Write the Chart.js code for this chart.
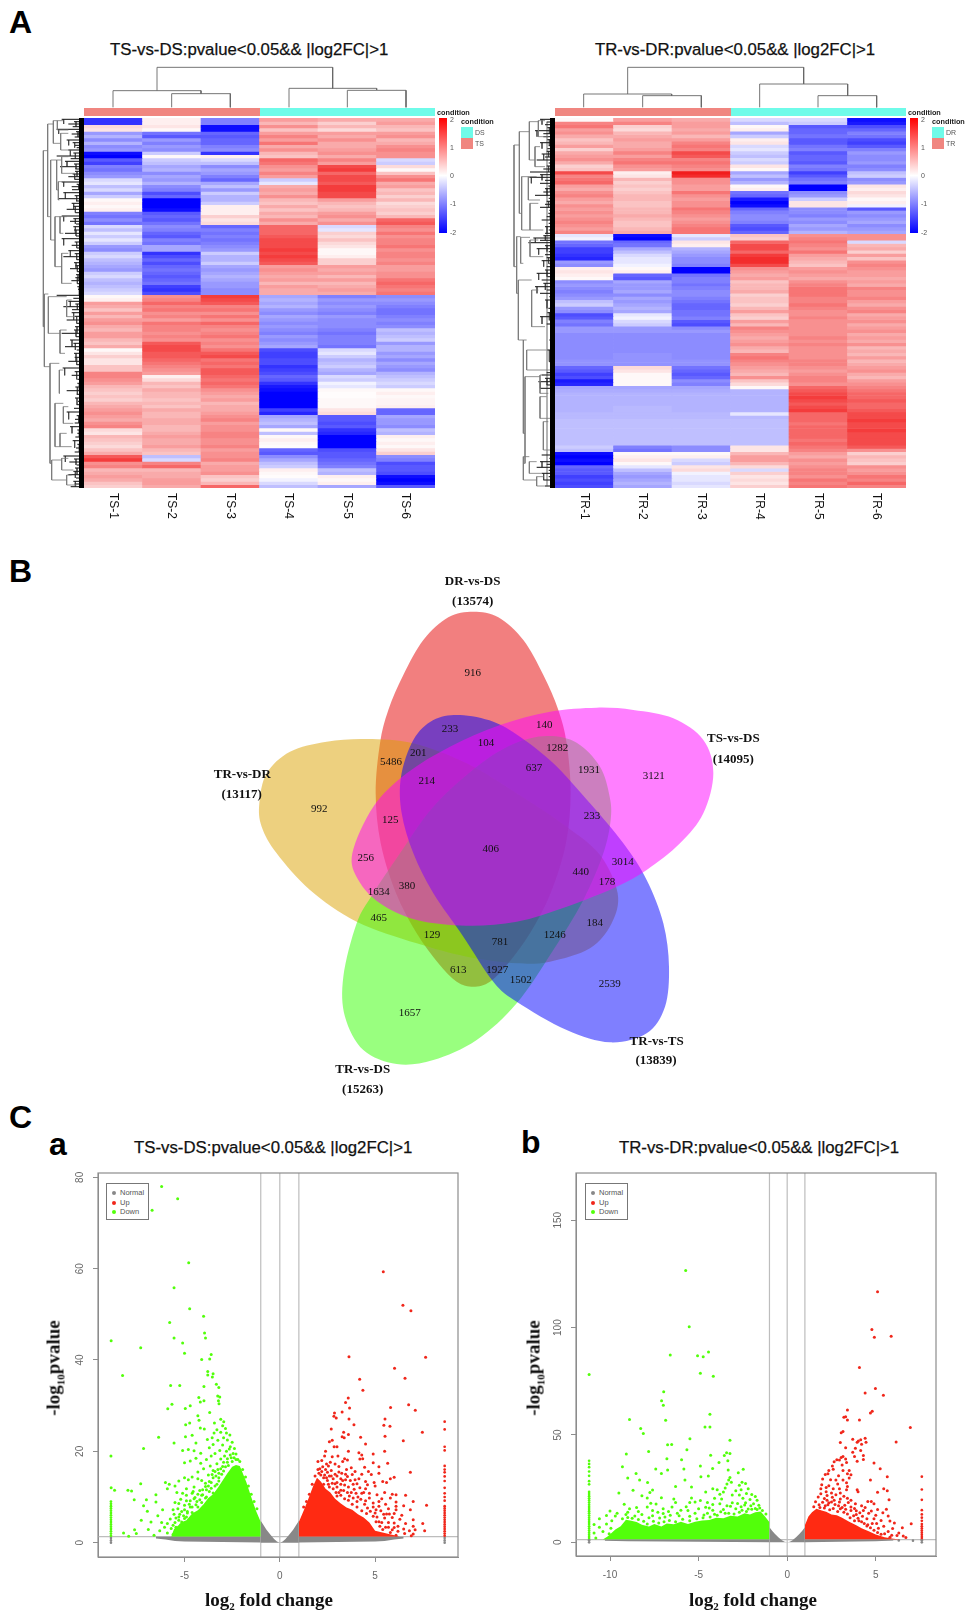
<!DOCTYPE html>
<html>
<head>
<meta charset="utf-8">
<script src="https://cdn.jsdelivr.net/npm/chart.js@4/dist/chart.umd.js"></script>
<style>
  html, body { margin: 0; padding: 0; background: #fff; }
  #page { position: relative; width: 975px; height: 1621px; overflow: hidden; font-family: "Liberation Sans", Arial, sans-serif; }
  canvas { position: absolute; }
  .txt { position: absolute; white-space: nowrap; line-height: 1; color: #000; }
  .box { position: absolute; }
  .panel { font-weight: bold; font-size: 32px; }
  .title { font-size: 16.8px; color: #111; transform: translateY(-50%); -webkit-text-stroke: 0.25px #111; }
  .axt { font-family: "Liberation Serif", serif; font-weight: bold; font-size: 19px; color: #111; }
  .axt sub { font-size: 11px; line-height: 0; }
</style>
</head>
<body>
<div id="page"></div>
<script>
// ---------- heatmap values (rows top to bottom, one value per sample) ----------
const samplesA = ['TS-1', 'TS-2', 'TS-3', 'TS-4', 'TS-5', 'TS-6'];
const samplesB = ['TR-1', 'TR-2', 'TR-3', 'TR-4', 'TR-5', 'TR-6'];
const heatA = [
  [-1.6,.2,-1,.9,.8,.8],[-1.6,.2,-1,.7,.5,.9],[.4,.3,-1.9,1,.7,.7],[.3,.1,-1.9,.6,.4,.6],[-.8,-1.1,-1.2,.9,.9,.9],[-.6,-1.3,-1.3,1.1,.8,1],
  [-.9,-.8,-1.2,.9,1,.7],[-.6,-1,-1.2,1.2,.8,.8],[-.9,-.8,-1,.8,.8,1],[-.8,-.9,-.9,1,.9,1.1],[-1.9,-.4,-1.6,.7,1,1],[-2,.1,.2,.6,.8,1],
  [-1.3,-.4,-.3,1.3,1.1,-.3],[-1.5,-.5,-.5,1.2,.9,-.4],[-1,-.7,-.9,1,1.5,.4],[-1.1,-.6,-.7,.9,1.6,.1],[-.9,-.9,-.8,1.1,1.3,.6],[-.8,-.7,-1,.9,1.5,1],
  [-.3,-.8,-1.2,-.4,1.5,1.2],[-.2,-.6,-.7,-.2,1.4,.8],[-.5,-.9,-.5,.8,1.6,.9],[-.3,-1,-.8,.9,1.6,.6],[-.7,-1.4,-.4,.8,1.5,.7],[-.4,-1.2,-.6,1,1.5,.5],
  [.1,-2,-.6,.7,.9,.7],[.2,-2,-.4,.6,.7,.4],[.1,-2,.2,.8,.6,.5],[.2,-1.9,.2,.6,.7,.6],[-1,-1.3,.2,.8,.9,.5],[-1.1,-1.2,.5,.7,1,.7],
  [-.9,-1.3,.3,1,.8,1.3],[-1.1,-1.1,.4,.8,1,1.4],[-.3,-.9,-1.2,1.3,-.3,1.1],[-.5,-1,-1,1.3,-.2,1],[-.2,-1.2,-1.1,1.3,.5,1.2],[-.4,-1.3,-1,1.4,.4,1],
  [-.2,-1,-1.1,1.5,.6,1.1],[-.4,-1.1,-1,1.5,.4,1.1],[-.8,-.7,-.9,1.5,.3,1.2],[-.9,-.7,-.8,1.6,.1,1],[-.4,-1.6,-.4,1.5,.1,1.1],[-.3,-1.4,-.6,1.6,.2,1.1],
  [-.5,-1.2,-.6,1.5,.5,1],[-.6,-1.4,-.4,1.4,.5,1.1],[-.7,-1.2,-.7,.9,.9,.9],[-.8,-1.1,-.8,1,.8,.9],[-.4,-1.2,-.7,.9,.9,1],[-.3,-1.3,-.6,.8,.7,1],
  [-.5,-1.2,-.7,.9,.9,1.2],[-.6,-1.1,-.8,.7,.7,1.3],[-.5,-1.5,-.8,.9,.8,1.2],[-.4,-1.6,-.9,.8,.9,1.1],[-.3,-1.4,-.9,.8,.8,1.2],
  [.1,1,1.6,-.7,-1,-.9],[.2,1.1,1.5,-.6,-.8,-.8],[.9,1.3,1.4,-.7,-.9,-.9],[.8,1.1,1.1,-.6,-.8,-1],[.6,1.2,1.2,-.8,-.9,-1.1],[.9,1,1,-.9,-1,-1.1],
  [.7,1.1,1.2,-.7,-.8,-1],[.9,.9,1,-.8,-.9,-.9],[1,1.2,1.3,-.9,-.9,-1],[.8,1.1,1.1,-.8,-.9,-.9],[.7,1.1,1,-.9,-1,-.5],[.9,1,1.1,-1,-1.1,-.6],
  [.9,1.1,1.2,-.8,-1,-.5],[.7,1,1,-.9,-1,-.4],[.6,1.4,1.1,-.8,-1,-.8],[.8,1.5,1,-.7,-1.1,-.6],[.1,1.5,1.2,-1.4,-.3,-.6],[.3,1.4,1.4,-1.5,-.2,-.8],
  [.5,1.4,1.5,-1.5,-.4,-.7],[.3,1.3,1.2,-1.4,-.6,-.9],[.3,1.2,1.3,-1.4,-.5,-.7],[.6,1.1,1.2,-1.6,-.4,-.8],[.6,1,1.4,-1.5,-.6,-.9],[1.1,.9,1.4,-1.4,-.7,-.6],
  [1.1,.2,1.3,-1.2,-.3,-.5],[1,.4,1.2,-1.3,-.4,-.4],[.9,.7,1.3,-1.6,-.1,-.3],[.7,.6,1.2,-1.8,-.2,-.4],[.6,.8,1,-1.9,.1,.1],[.5,.7,.9,-2,.05,.2],
  [.6,.7,.8,-2,.05,.1],[.5,.6,.9,-2,.1,.15],[.7,.7,.7,-2,.1,.15],[.8,.6,.8,-2,.1,.2],[.9,.8,.8,-1.5,.3,-1.2],[1,.7,.9,-1.7,.4,-1.2],
  [.9,.7,1,-.7,-1.3,-.7],[.8,.8,1.1,-.6,-1.3,-.8],[1,.8,.9,-.5,-1.4,-.8],[1.1,.7,1,-.7,-1.3,-.9],[.4,.7,1,.1,-1.6,-.5],[.3,.8,1.1,-.5,-1.7,-.6],
  [.7,.9,1.1,.1,-2,.2],[.6,.8,1,.2,-2,.1],[.5,.8,1,.1,-2,.2],[.4,.9,1.1,.05,-2,.1],[.6,.7,.9,-1.2,-1.4,.3],[.8,.6,1,-1.3,-1.3,.5],
  [1.4,-.5,1,-.9,-1.3,-.9],[1.6,-.3,1.1,-.7,-1.2,-1],[1,1.1,.8,-.5,-1.1,-1.4],[1.1,1.3,.9,-.4,-1,-1.3],[.7,.7,.9,.2,-.5,-1.3],[.8,.8,1,.1,-.6,-1.4],
  [.9,.8,.6,.05,.2,-1.9],[.8,.9,.5,-.1,.1,-2],[.6,.9,.7,-.3,.2,-1.9],[.5,.8,1.3,-.5,-.7,-1.3]
];
const heatB = [
  [.1,.9,.8,-.3,-.3,-1.9],[1.1,1.1,.9,-.5,-.4,-1.8],[1.2,.5,.9,.1,-1.3,-1.4],[.9,.4,.8,.2,-1.2,-1.2],[1,.7,.9,-.7,-1.2,-1],[.8,.8,.7,-.4,-1.1,-1.1],
  [.6,.9,.9,.2,-1.3,-1.4],[.7,.8,1.1,.3,-1.3,-1.5],[.9,.8,1.2,-.3,-1.1,-1.3],[.5,.9,1.1,-.2,-1,-1],[.8,1.1,1.5,-.4,-1.3,-.8],[.9,.9,1.4,-.5,-1.2,-.9],
  [1,1.1,1.1,-.3,-1.2,-.9],[.8,1.2,1.2,-.4,-1.3,-.8],[.5,1,1.1,.3,-1,-1],[.6,.9,1,.1,-1.1,-.9],[1.5,.2,1.8,-.7,-1.5,-.5],[1.1,.3,1.7,-.5,-1.3,-.4],
  [1.2,.7,1,-.8,-1.1,-.9],[1.3,.5,1,-.6,-1,-.8],[.9,.6,.9,.1,-2,.3],[.8,.5,.9,.2,-2,.2],[1,.6,1.2,-1.1,-.9,.4],[1.1,.7,1,-1.2,-.8,.3],
  [.9,.7,.9,-1.8,-.4,.1],[.8,.6,1,-2,.3,.2],[1,.6,1,-1.9,.3,-.1],[.9,.7,1.2,-1.2,-.9,-1.3],[1,.7,1.1,-1,-.9,-.8],[.9,.8,1,-.9,-1,-.9],
  [1,.7,.9,-.9,-.8,-.8],[1.1,.6,1,-1,-.9,-.7],[1,.6,1.1,-1.3,-.7,-.9],[.9,.7,1.2,-1.4,-.8,-.8],[1.1,.8,1.2,-1.2,-.6,-.7],
  [-.2,-1.9,-.2,.6,1,1],[-.1,-2,-.4,.5,1.1,1],[-1.1,-1.2,.3,1.3,1.2,-.3],[-1.2,-1.1,.2,1.5,1.1,.7],[-1.5,-.7,-.6,1.5,1,.8],[-1.5,-.5,-.7,1.3,1.2,.5],
  [-1.6,-.3,-.8,1.6,.9,.9],[-1.7,-.2,-.9,1.7,.8,.6],[-.8,-.2,-.9,1.7,.7,1],[-.9,-.1,-1,1.5,.6,1.1],[.2,.1,-2,1,.9,1],[.3,.2,-2,.9,1,.9],
  [.2,-1.2,-1.1,.8,.9,.9],[.1,-1.3,-1,.9,.8,.8],[-.9,-.7,-1,.6,1,.9],[-.8,-.8,-1.1,.7,1.1,.8],[-.9,-.8,-1,.7,1.2,1.1],[-1,-.7,-.9,.8,1.2,1],
  [-.9,-.9,-.9,.5,1.2,1],[-.8,-.7,-1,.6,1.1,1.1],[-.5,-.8,-1.1,.6,1.1,.9],[-.4,-.7,-1.2,.5,1.2,.8],[-.8,-.6,-1.2,.7,1.1,1],[-.9,-.7,-1.1,.9,1,1.1],
  [-1.4,-.2,-1.1,.6,1,.8],[-1.3,-.1,-1,.5,1.1,.9],[-1,-.3,-1.3,.9,1,1],[-1.1,-.4,-1.4,.7,1,.8],[-.8,-.8,-.9,1.1,1,.9],[-.8,-.8,-.8,1,1,1],
  [-.9,-.9,-.9,.9,1,.8],[-.9,-.9,-.9,.8,1.1,.9],[-.9,-.9,-.9,.9,1,.8],[-.9,-.9,-.9,1,1.1,1],[-.9,-.9,-.9,.8,1,.7],[-.9,-.9,-.9,.7,1,.8],
  [-.9,-.85,-.9,1.1,1,.7],[-.9,-.85,-.9,1.2,1,.9],[-.85,-.85,-.85,1.1,1.1,.7],[-.85,-.85,-.85,1,1.1,.8],[-1.2,.4,-1.1,.9,1,.9],[-1.3,.3,-1.2,.8,.9,1],
  [-1.5,.1,-1.3,.7,1,.8],[-1.4,.1,-1.2,1,1.1,.7],[-1.8,.1,-.9,.6,1.1,.9],[-1.7,.1,-1,.4,1,1],[-.7,-.7,-.7,.1,1.3,1.1],[-.65,-.65,-.65,-.6,1.4,1.2],
  [-.6,-.6,-.6,-.6,1.5,1.3],[-.6,-.6,-.6,-.6,1.6,1.3],[-.6,-.6,-.6,-.6,1.5,1.4],[-.6,-.6,-.6,-.6,1.4,1.3],[-.6,-.55,-.6,-.6,1.5,1.3],[-.6,-.55,-.6,-.6,1.6,1.4],
  [-.55,-.55,-.55,-.2,1.3,1.5],[-.55,-.55,-.55,-.55,1.3,1.5],[-.5,-.5,-.5,-.5,1.3,1.6],[-.5,-.5,-.5,-.5,1.2,1.5],[-.5,-.5,-.5,-.5,1.3,1.5],[-.5,-.5,-.5,-.5,1.3,1.6],
  [-.5,-.5,-.5,-.5,1.3,1.5],[-.5,-.5,-.5,-.5,1.3,1.5],[-.5,-.5,-.5,-.5,1.2,1.5],[-.5,-.5,-.5,-.5,1.3,1.5],[-.4,-1,-.9,.3,1.2,1.4],[-.5,-1.1,-.9,.3,1.1,1],
  [-1.9,.1,.1,.7,.9,.5],[-2,.2,.2,.9,.8,.7],[-1.9,.3,-.3,.9,1,.6],[-2,.1,-.4,.7,.9,.5],[-1.2,-.2,.3,.4,1,1],[-1.3,-.5,.4,-.3,1.1,.9],
  [-1.3,-.7,-.1,.5,1.1,1],[-1.5,-.8,-.2,.3,1,1.2],[-1.4,-.7,-.2,.4,1.2,1.1],[-1.5,-.6,-.3,.3,1.1,1.3],[-1.4,-.7,-.2,.5,1.2,1.1]
];

// ---------- dendrograms: [joinX/Y, from, to, child end 1, child end 2] ----------
const colTreeA = [[202,471,998,272,265],[272,339,603,322,281],[281,515,691,322,322],[265,867,1130,322,270],[271,1042,1218,322,322]];
const colTreeB = [[202,413,941,282,252],[282,281,545,322,287],[287,458,634,322,322],[252,809,1073,322,287],[287,984,1160,322,322]];
const rowTreeA = [
  [130,452,980,143,133],[143,372,650,160,152],[160,362,430,172,182],[152,480,720,170,165],[170,480,570,185,175],
  [165,650,800,180,185],[133,882,1100,145,150],[145,890,1000,200,180],[150,1090,1390,178,155],[155,1380,1440,185,200],
  [172,362,390,190,205],[182,400,450,205,215],[185,470,520,205,225],[175,545,600,195,178],[180,650,700,200,190],
  [185,760,850,205,215],[200,900,950,215,225],[180,990,1060,200,195],[178,1110,1180,190,180],[165,1210,1340,190,180],
  [190,1220,1270,205,220],[180,1300,1340,200,215],[185,1375,1410,205,220],[200,1425,1455,215,230]
];
const rowTreeB = [
  [72,435,800,88,80],[88,395,640,118,95],[118,365,480,145,135],[95,530,690,115,120],[80,710,880,92,85],
  [92,712,790,120,100],[85,840,1020,125,100],[100,1020,1300,110,105],[105,1130,1390,150,100],[100,1370,1440,118,140],
  [145,362,410,165,175],[135,440,500,150,165],[115,530,600,140,150],[120,610,690,145,160],[120,720,770,145,160],
  [125,870,980,145,165],[110,1050,1110,170,185],[150,1125,1180,160,175],[150,1190,1255,170,190],[160,1265,1350,175,190],
  [118,1385,1420,140,155],[140,1430,1458,160,175]
];
// leaf ends of the row trees: [y, x where the dark comb starts]
const leavesA = [[358,185],[372,205],[388,170],[402,215],[420,200],[436,225],[450,205],[468,170],[484,195],[500,180],[514,225],[530,205],[546,185],[560,215],[578,190],[596,175],[610,215],[628,200],[648,185],[664,210],[680,220],[700,195],[716,185],[736,215],[752,205],[770,190],[788,222],[806,210],[824,228],[842,214],[860,232],[886,170],[904,205],[920,190],[938,215],[960,200],[980,225],[1000,185],[1020,210],[1040,195],[1060,222],[1084,205],[1104,188],[1126,215],[1150,232],[1172,200],[1194,225],[1214,230],[1236,200],[1258,225],[1280,210],[1300,232],[1322,218],[1344,228],[1368,190],[1386,208],[1404,225],[1424,205],[1444,220],[1460,212],
  [365,222],[380,218],[395,228],[411,224],[428,218],[443,230],[459,220],[476,212],[492,222],[507,226],[522,218],[538,224],[553,230],[569,216],[587,224],[603,228],[619,220],[638,226],[656,220],[672,228],[690,222],[708,228],[726,224],[744,230],[761,224],[779,230],[797,226],[815,232],[833,226],[851,232],[868,234],[895,220],[912,226],[929,216],[949,224],[970,230],[990,222],[1010,228],[1030,220],[1050,230],[1072,224],[1094,230],[1115,224],[1138,232],[1161,226],[1183,230],[1204,234],[1225,222],[1247,230],[1269,224],[1290,232],[1311,226],[1333,232],[1356,224],[1377,222],[1395,230],[1414,220],[1434,228],[1452,224]];
const leavesB = [[358,150],[374,165],[392,135],[410,160],[428,150],[446,172],[462,155],[480,140],[498,170],[516,120],[532,118],[550,150],[566,165],[586,135],[604,170],[622,150],[640,175],[660,155],[680,165],[700,165],[714,130],[728,115],[746,140],[764,165],[782,155],[800,170],[820,140],[840,155],[860,135],[880,150],[900,165],[925,175],[950,150],[972,170],[995,180],[1020,178],[1050,172],[1085,178],[1110,185],[1125,155],[1145,145],[1165,150],[1190,180],[1225,185],[1255,185],[1290,188],[1330,188],[1365,155],[1385,150],[1402,140],[1420,155],[1440,160],[1458,165],
  [366,170],[383,172],[401,160],[419,172],[437,176],[454,170],[471,165],[489,176],[507,160],[524,150],[541,165],[558,175],[576,160],[595,176],[613,165],[631,178],[650,170],[670,176],[690,176],[707,160],[721,150],[737,165],[755,176],[773,170],[791,178],[810,165],[830,172],[850,160],[870,170],[890,178],[912,180],[938,172],[961,180],[984,184],[1008,184],[1035,182],[1068,182],[1098,186],[1118,170],[1135,165],[1155,170],[1178,182],[1140,178],[1375,178],[1393,170],[1411,176],[1430,176],[1449,180]];

// ---------- venn petals: outlines ----------
const petalRed = [[820,155],[895,172],[970,240],[1030,345],[1075,450],[1100,550],[1112,700],[1098,850],[1052,1000],[990,1120],[925,1210],[870,1265],[820,1280],[770,1265],[715,1210],[650,1120],[588,1000],[542,850],[527,700],[540,550],[565,450],[610,345],[670,240],[745,172]];
const petalGold = [[178,730],[200,640],[270,575],[380,545],[500,537],[640,550],[800,610],[950,700],[1100,800],[1200,885],[1253,1000],[1235,1090],[1170,1165],[1050,1205],[950,1210],[800,1190],[650,1150],[470,1085],[330,990],[230,880],[185,800]];
const petalGreen = [[1040,528],[1130,548],[1200,620],[1229,710],[1232,780],[1210,880],[1150,1020],[1060,1170],[950,1330],[830,1440],[700,1500],[590,1512],[490,1470],[435,1370],[430,1250],[470,1090],[520,1000],[600,880],[700,740],[830,620],[940,552]];
const petalBlue = [[780,465],[880,485],[960,530],[1060,610],[1170,730],[1270,850],[1340,960],[1390,1090],[1407,1220],[1395,1340],[1340,1420],[1230,1447],[1100,1410],[950,1325],[880,1265],[790,1130],[700,1000],[640,880],[605,760],[603,650],[640,540],[700,480]];
const petalMagenta = [[1190,443],[1050,455],[900,495],[750,560],[620,640],[520,740],[457,880],[475,960],[540,1030],[650,1080],[800,1097],[950,1085],[1100,1040],[1250,980],[1340,930],[1440,850],[1510,760],[1540,640],[1510,540],[1420,475],[1300,450]];
const vennCounts = ['916','233','140','104','201','1282','5486','637','1931','214','3121','992','125','233','406','256','3014','440','178','380','1634','465','184','129','1246','781','613','1927','1502','2539','1657'];
const vennCountX = [818,750,1033,858,655,1072,573,1002,1167,680,1361,358,571,1176,872,497,1268,1142,1221,621,536,536,1184,696,1064,900,775,892,962,1229,629];
const vennCountY = [340,507,495,549,578,563,605,623,630,663,648,747,779,768,868,893,905,936,967,979,997,1073,1089,1126,1126,1146,1230,1229,1260,1273,1358];
const vennNames = ['DR-vs-DS','(13574)','TS-vs-DS','(14095)','TR-vs-DR','(13117)','TR-vs-TS','(13839)','TR-vs-DS','(15263)'];
const vennNameX = [818,818,1600,1600,127,125,1370,1368,488,488];
const vennNameY = [66,124,537,598,645,703,1445,1503,1530,1590];

// ---------- volcano a ----------
const ticksAX = [-5, 0, 5];
const ticksAY = [0, 20, 40, 60, 80];
const bandLeftA = [[-6.5,.9],[-6,.7],[-5.5,.35],[-5,.25],[-4,.2],[-3,.15],[-2,.1],[-1,.05]];
const bandRightA = [[1,.05],[2,.1],[3,.15],[4,.2],[5,.25],[5.5,.35],[6,.7],[6.5,.9]];
const normalVA = [[-1,4.8],[-.85,3.8],[-.7,2.8],[-.5,1.8],[-.3,.8],[-.15,.25],[0,0],[.15,.25],[.3,.8],[.5,1.8],[.7,2.8],[.85,3.8],[1,4.8]];
const downMassA = [[-5.7,1.3],[-5.55,3],[-5.1,4.6],[-4.9,4.9],[-4.6,6.4],[-4.3,7.1],[-4,8.4],[-3.75,9.8],[-3.5,10.6],[-3.25,12],[-3,13.6],[-2.75,15.2],[-2.5,16.6],[-2.3,17],[-2.1,16.8],[-2,15.8],[-1.75,13.2],[-1.5,10],[-1.25,7],[-1,4.5]];
const upMassA = [[1,4.5],[1.25,7],[1.5,9.6],[1.75,12.4],[1.95,14.2],[2.15,13.4],[2.4,11.8],[2.65,11],[2.9,9.6],[3.2,8.6],[3.5,7.7],[3.8,7.2],[4.1,6.2],[4.4,5.5],[4.7,4.4],[5,2.6],[5.5,2.1],[6,1.6],[6.3,1.3]];
const downPtsA = [[-6.2,78],[-5.36,75.3],[-6.7,72.8],[-4.78,61.3],[-5.55,55.8],[-4.73,51.2],[-4,49.6],[-5.78,48.2],[-3.95,45.9],[-3.9,44.8],[-5.55,44.8],[-5.1,43.7],[-8.85,44.2],[-7.3,42.7],[-5,41.5],[-3.6,41.2],[-3.68,40.2],[-4.1,40.1],[-3.78,37.5],[-3.5,37],[-8.25,36.6],[-3.78,36.7],[-3.54,36.3],[-5.73,34.4],[-5.25,34.4],[-3.98,34.2],[-3.33,34.7],[-3.2,34],[-4.25,31.8],[-3.26,32.1],[-3.15,31.9],[-3.22,31.1],[-4.17,30.8],[-3.98,31.1],[-5.66,30.3],[-4.7,30],[-4.96,29.4],[-5.88,29.3],[-3.19,30.4],[-3.68,28.5],[-4.3,27.8],[-3.1,27],[-4.24,26.8],[-4.73,26.2],[-4.94,25.8],[-3.43,26.2],[-2.94,26.5],[-4.17,25.1],[-3.96,24.9],[-6.36,23.1],[-5.55,21.8],[-7.15,20.6],[-8.86,19],
  [-3,25.6],[-2.85,25],[-3.3,24.7],[-3.45,24],[-3.1,24.2],[-2.8,24],[-2.62,23.6],[-2.95,23],[-3.55,23],[-3.8,22.6],[-3.25,22.4],[-2.75,22.5],[-2.5,22],[-4.6,23.5],[-4.95,23.2],[-4.4,21.8],[-3.5,21.5],[-3,21.4],[-2.6,21],[-2.38,20.6],[-3.7,20.8],[-4.8,20.4],[-5.1,20.2],[-4.5,20.1],[-3.15,20.2],[-2.8,20],[-2.45,19.5],[-3.4,19.5],[-4.15,19.6],[-3.6,19],[-2.9,19],[-2.55,18.6],[-2.3,18.2],[-4.4,18.5],[-3.1,18.3],[-3.85,18.2],[-4.7,17.9],[-5,17.5],[-4.15,17.4],[-3.3,17.3],[-2.75,17.6],[-3.65,16.8],[-3,16.7],[-4,16.2],[-3.5,15.8],[-2.95,15.7],[-4.3,15.5],[-3.2,15.2],[-3.75,14.8],[-4.6,14.4],[-5,14.2],[-4.8,13.8],[-5.3,13.5],[-4.3,14],[-3.5,14.2],[-4.1,13.6],[-3.7,13.4],[-3.2,13.5],[-5.8,12.8],[-5.5,12.4],[-4.5,12.2],[-4.9,11.8],[-3.9,12.3],[-3.4,12.4],[-4.2,11.4],[-3.7,11.2],[-5.4,11],[-4.6,10.8],[-4.05,10.5],[-3.5,10.9],[-5.2,9.5],[-4.9,9.2],[-4.5,9.6],[-4.2,9.4],[-3.9,9.8],[-5.5,8.8],[-5,8.2],[-4.7,7.8],[-4.4,8.3],[-5.35,7.4],[-5.15,6.8],[-4.85,6.5],[-5.55,6.2],[-5.3,5.6],[-5,5.3],[-5.75,5.2],[-5.9,4.2],[-5.5,4.4],[-5.2,3.9],[-6.2,4.4],[-6.05,3.4],[-5.7,3.1],[-5.45,2.6],[-6.3,2.6],[-5.9,2.1],[-5.6,1.8],[-6.6,1.6],
  [-7.3,12.9],[-7.97,11.5],[-7.78,11.3],[-8.67,11.5],[-8.85,12],[-7.64,9.4],[-7,9.4],[-6.5,10.5],[-6.5,8.9],[-7.15,8.1],[-6.95,6.9],[-7.27,4.9],[-6.76,4.5],[-8.2,2.1],[-7.62,2.8],[-7.53,2],[-7.93,1.4],[-6.9,2.9],[-6.4,5.9],[-6.15,7.2],[-5.9,11.8],[-6,13.2],
  [-2.2,18.2],[-2.4,18.6],[-2.1,17.8],[-2.6,19.2],[-2.75,18.4],[-2.95,17.6],[-3.25,16],[-2.5,17.8],[-2.85,16.6],[-3.05,15],[-3.35,14.6],[-3.6,13.2],[-3.3,12.8],[-3.85,11.6],[-3.6,11.9],[-4.1,10.4],[-3.85,10],[-4.35,9],[-4.1,8.8],[-4.6,7.8],[-4.3,7.8],[-4.85,6.8],[-4.6,6.6],[-5.05,5.9],[-4.9,5.6],[-5.3,4.9],[-5.15,4.5],[-5.45,3.4],[-5.3,3.2],[-2.65,20.5],[-2.3,19.4],[-1.95,16],[-1.8,14.4],[-1.65,12.4],[-1.5,10.6],[-1.35,9],[-1.2,7.4],[-3.4,15.6],[-3.1,16.2],[-2.7,16.9],[-3.55,14.9],[-3.2,14.2],[-3.9,13],[-3.75,12.4],[-4.05,11.6],[-4.3,10.6],[-4.45,9.9],[-4.7,9.2],[-4.75,8.4],[-5,7.2],[-5.25,6.2],[-5.45,5.4],[-5.6,3.8],[-4.55,11.2],[-4.9,10.4],[-5.1,10.8],[-5.3,8.6],[-5.6,7.2]];
const upPtsA = [[5.43,59.3],[6.46,52],[6.88,50.8],[3.63,40.7],[7.65,40.6],[6.02,38.2],[4.19,35.8],[6.57,36],[4.36,33.4],[3.59,31.7],[3.45,30.7],[6.76,30.2],[5.81,29.6],[7.11,29],[3.66,29.5],[2.87,28.4],[3.27,28.6],[2.84,27.7],[2.96,27.3],[3.63,27.1],[5.52,27.1],[3.89,25.8],[5.46,25.7],[5.78,25.5],[2.7,24.9],[7.48,24.2],[3.35,24.2],[3.27,23.2],[3.6,23.7],[3.38,23],[5.52,23.3],[4.24,23.1],[6.48,22.3],[2.6,22.1],[2.75,22.4],[4.5,21.6],[3,21],[2.85,21],[2.4,20],[5.5,20],[4.15,19.7],[3.6,20],[4.3,19.2],[4.9,19.4],[2.35,19],[3.55,18.1],[4.2,18.3],[3.4,18.4],[4.35,18.4],[2.2,18],[2,17.8],[5.66,17.4],[4.9,17.5],[2.9,17.2],[3.1,16.7],[2.55,16.8],[5.2,16.6],[3.75,16.4],[4.45,16.5],[2.1,16.2],[2.4,16],[6.85,15.4],[3.1,15.5],[4.65,15.6],[2.9,15],[5.2,15.2],[3.45,15],[3.8,14.9],[4.3,15],[4.8,14.9],[2.6,14.6],[6,14.3],[5.6,13.2],[3.2,14],[5.8,14],[2.3,14.2],[3.7,13.6],[4.5,13.4],[4.95,13.2],[5.4,13.4],[3,13.2],[2.1,13],[2.55,12.8],[3.4,12.6],[4.05,12.9],[3.2,11.5],[3.9,11.7],[4.5,11.8],[5,12.4],[2.8,11.8],[3.55,11],[5.5,11],[6.1,10.5],[5.9,10.6],[6.6,10.4],[4.3,10.8],[5.1,10.5],[3,10.2],[4.1,10],[4.7,9.8],[5.35,9.6],[3.6,9.3],[5.8,9.8],[4.5,9.2],[4.9,8.7],[7,9],[6.1,8.9],[7.7,8.2],[6.1,8],[6.5,8.1],[5.55,8.4],[5.2,8],[4.9,7.8],[5.7,7.4],[6.1,7.2],[5.3,7],[6.85,7.2],[5,6.5],[5.6,6.3],[6,6.4],[6.4,6],[5.1,5.6],[5.5,5.4],[5.9,5.5],[6.3,5.1],[7,5],[5.2,4.6],[5.7,4.4],[6,4.3],[6.6,4.2],[7.5,4.2],[7,3.6],[5.7,3.4],[6,3.3],[6.5,3],[6.8,2.6],[7.1,2.8],[7.6,2.6],[6.2,2.5],[5.8,2.2],[6.55,2],[7,1.9],[6.9,1.5],[6.1,1.6],
  [2.05,15.2],[2.2,15.6],[2.35,14.8],[2.5,15.4],[2.7,15.8],[2.8,14],[2.25,16.6],[2.45,17.2],[2.65,17.6],[3,14.6],[3.25,15.2],[2.5,13.6],[2.75,13],[3,12.2],[3.2,12.8],[3.45,13.8],[3.6,12.2],[3.85,12.8],[2.95,11],[3.2,10.4],[3.4,9.6],[3.65,10.2],[3.85,9.8],[4.05,9],[4.25,9.5],[4.45,8.4],[4.6,7.6],[3.8,8.4],[4.05,7.8],[4.3,7],[4.55,6.4],[4.75,6.9],[4.9,5.8],[5.05,4.6],[5.25,3.6],[5.4,2.9],[1.55,10.6],[1.7,12.8],[1.85,14.6],[2,16],[1.4,9],[1.25,7.8],[2.15,14.8],[3.5,16],[3.95,15.6],[4.15,14],[4.6,12.7],[3.05,19],[2.75,18.8],[3.3,17.8],
  [2.3,12.8],[2.6,12.2],[2.9,12.9],[3.1,11],[3.35,11.4],[3.75,11],[4,10.8],[2.45,14.2],[2.7,14.6],[3.3,13.6],[3.55,14.5],[4.4,11],[4.2,12],[3.95,13.8],[4.7,10.8],[5.2,9],[5.05,7.2],[5.45,6.2],[5.75,6.3],[5.35,4.4],[5.55,3.4],[5.9,2.8],[6.2,3.6]];
const downColA = [[-8.86,1.5],[-8.86,2],[-8.86,2.5],[-8.86,3],[-8.86,3.5],[-8.86,4],[-8.86,4.5],[-8.86,5],[-8.86,5.5],[-8.86,6],[-8.86,6.5],[-8.86,7],[-8.86,7.5],[-8.86,8],[-8.86,8.5],[-8.86,9]];
const upColA = [[8.65,1.5],[8.65,2],[8.65,2.5],[8.65,3],[8.65,3.5],[8.65,4],[8.65,4.5],[8.65,5],[8.65,5.5],[8.65,6],[8.65,6.5],[8.65,7],[8.65,7.5],[8.65,8],[8.65,9.2],[8.65,10],[8.65,10.8],[8.65,12],[8.65,13.5],[8.65,14.5],[8.65,15.4],[8.65,16],[8.65,16.8],[8.65,20.2],[8.65,21],[8.65,24.8],[8.65,26.5]];
const normalColA = [[-8.86,0],[-8.86,.5],[-8.86,1],[8.65,0],[8.65,.5],[8.65,1]];

// ---------- volcano b ----------
const ticksBX = [-10, -5, 0, 5];
const ticksBY = [0, 50, 100, 150];
const bandLeftB = [[-10.3,.8],[-9,.5],[-7,.35],[-5,.25],[-3,.15],[-1,.05]];
const bandRightB = [[1,.05],[2,.15],[3,.25],[4,.35],[5,.5],[6,.9]];
const normalVB = [[-1,7],[-.85,5.4],[-.7,4],[-.5,2.4],[-.3,1],[-.15,.3],[0,0],[.15,.3],[.3,1],[.5,2.4],[.7,4],[.85,5.4],[1,7]];
const downMassB = [[-10.4,1.3],[-10.1,3],[-9.7,6],[-9.4,7.5],[-9.1,10.5],[-8.8,10],[-8.5,9.5],[-8.2,8.2],[-7.8,7.4],[-7.5,8.6],[-7.1,7.4],[-6.8,8.8],[-6.4,8.4],[-6,9.6],[-5.6,8.6],[-5.2,9.6],[-4.8,10.2],[-4.4,10.4],[-4,11.4],[-3.6,11.2],[-3.2,12.4],[-2.8,12],[-2.4,13.6],[-2.1,13],[-1.8,14],[-1.5,14.4],[-1.25,12],[-1,9.4]];
const upMassB = [[1,8],[1.2,12],[1.4,14],[1.65,15.6],[1.95,14.8],[2.2,14.2],[2.5,13],[2.8,12.6],[3.1,11.4],[3.5,9.6],[3.9,8],[4.2,6.6],[4.6,5.2],[5,3.6],[5.5,2.4],[6,1.7],[6.4,1.3]];
const downPtsB = [[-5.73,126.6],[-5.53,100.4],[-6.6,87.3],[-5.06,86.9],[-4.74,86.4],[-4.44,88.6],[-4.9,78.8],[-4.17,77.4],[-11.18,78.2],[-6.97,70.1],[-7.09,65.9],[-6.99,63.8],[-4.36,59.6],[-8.9,57.2],[-6.86,56.9],[-4.64,53.7],[-4.36,53.7],[-8.27,53],[-8.12,50.7],[-5.49,48.2],[-3.23,47.5],[-6.75,45.4],[-6.52,45.6],[-7.82,42.3],[-5.66,43.1],[-9.08,41.1],[-4.32,40.6],[-3.42,41.7],[-3.23,41.4],[-3.55,40.5],[-6.79,38.9],[-5.96,38.5],[-3.35,38],[-3.85,37.2],[-9.3,35.2],[-4.9,35.5],[-4.21,34.4],[-7.42,34.1],[-5.83,34.1],[-6.75,33.7],[-7.1,32.1],[-3.33,33.7],[-2.76,32.4],[-2.48,34],[-8.53,32.1],[-9,30],[-4.87,30.6],[-4.45,30.9],[-3.23,30.2],[-5.77,29],[-8.33,29],[-7.88,27.9],
  [-3.3,29],[-3.15,28],[-3.4,27.2],[-2.55,28],[-2.35,27.4],[-2.7,26.6],[-9.5,23],[-8.7,24.3],[-7.6,24.4],[-7.75,23.2],[-6.3,26],[-5.4,25.8],[-4.2,25],[-3.95,24.5],[-3.5,25.3],[-3.6,23.5],[-2.2,25],[-2.6,24.5],[-2.9,24],[-4.6,23.5],[-3.8,22.4],[-2.3,22.8],[-2,22.3],[-1.8,21.4],[-2.7,22],[-3.1,22],[-8.2,21.7],[-7.9,20.6],[-7.1,20.8],[-5.4,20.6],[-6.4,20.2],[-4.9,19.5],[-4.1,20.5],[-3.7,20.2],[-2.5,20.5],[-2.1,20],[-1.7,19.6],[-9.2,17.7],[-8.5,16.2],[-7.7,18.2],[-7.4,17.9],[-7.9,16.5],[-6.3,18.5],[-5.5,18.6],[-5.2,18.8],[-4.5,18.6],[-4.2,17.6],[-3.8,18],[-3.1,18.4],[-2.8,18.1],[-2.4,17.4],[-1.9,18],[-1.6,17.3],[-10,14.6],[-9.6,13.6],[-9,14],[-8.4,14.4],[-7.6,14.8],[-7,15.6],[-6.7,14.4],[-6,15],[-5.6,14.8],[-5,15.6],[-4.4,16],[-3.6,15.3],[-2.9,15.7],[-2.2,15.5],[-1.7,15.3],[-10.6,11],[-10.2,12.5],[-9.9,10],[-10.9,8.3],[-10.6,7],[-10.2,8.6],[-9.95,6.6],[-10.9,4.3],[-10.4,5],[-10.05,4],[-10.8,2],[-9.7,12.3],[-8.6,12.3],[-7.8,11.5],[-7.2,11.3],[-6.6,12.6],[-6.1,12.4],[-5.2,13.5],[-4.7,12.7],[-4.1,13.1],[-3.5,13.5],[-2.7,14],[-1.4,14.8],[-1.2,13.2],
  [-9.3,11],[-9,11.6],[-8.75,11.2],[-8.4,10.6],[-8.1,9.8],[-7.9,8.6],[-7.55,9.8],[-7.25,9],[-6.95,9.6],[-6.65,10.2],[-6.3,9.6],[-5.9,10.8],[-5.5,10],[-5.1,11],[-4.75,11.4],[-4.35,11.8],[-3.95,12.6],[-3.3,13.6],[-3,13.2],[-2.55,15],[-2.3,14.4],[-2,15.4],[-1.8,15.8],[-3.75,14.2],[-4.5,13.5],[-5.5,12.2],[-6.9,11.8],[-7.6,12.4],[-8.2,13],[-9.1,13],[-8.9,15.6],[-7,13.4],[-6.2,13.6],[-4.2,15],[-3.2,16.8],[-2.6,16.6],[-2.35,18.4],[-2.05,17],[-1.55,16],[-3.4,17],[-4.6,16.4],[-5.7,16.6],[-6.5,16.5],[-7.3,14]];
const upPtsB = [[5.1,116.7],[4.78,99.1],[4.92,95.5],[5.87,96],[4.08,81.4],[4.98,71.7],[4.4,69.5],[5.43,68.5],[3.4,61.6],[4.8,61],[4.7,60.2],[3.2,58.2],[3.3,58.5],[3.4,57],[4.08,57],[6.95,53.5],[3.15,51.6],[3.05,51],[6.15,46.7],[3.7,48],[4.15,47.8],[4.02,47.2],[3.95,46.6],[4.4,48.5],[4.45,46.6],[3,46.5],[3.3,44],[4.2,45.7],[3.85,43.8],[4.15,42.8],[3.7,42],[4.3,40.5],[3.8,40],[3.15,40],[3.05,39.5],[3.3,38.8],[2.95,38.4],[2.8,38.5],[2.65,37.5],[3.35,37.2],[4.9,37],[4.3,38.6],[3.95,37.8],[2.55,35.5],[3.1,36],[2.35,33.4],[2.6,34],[3.15,33.5],[3.5,33.5],[5.25,34.3],[2.3,32],[2.15,31.6],[2.9,31],[3.4,32],[3.6,31.5],[5.65,30.5],[3.5,30],[2,29.5],[2.45,29.2],[2.75,29],[3.15,29],[4.7,29],[3.35,27.8],[1.95,26.8],[2.35,26.4],[2.85,27.2],[3.4,26],[1.9,25],[2.2,25.5],[2.6,25],[2.95,25],[3.35,24.5],[3.95,24.5],[4,23.6],[5.45,25],[5.65,24],[5.1,23.3],[2.2,23.6],[2.5,23],[3,23],[2.75,22.2],[1.9,22.6],[2.25,21.8],[3.2,21.5],[1.75,21.1],[2.55,21],[3.4,20.5],[2.1,20.4],[5.75,19.8],[4.55,19],[4.75,19],[1.6,18.9],[2,18.7],[2.95,18.8],[3.45,18.5],[2.35,18.4],[3.85,18],[4.9,18],[1.8,17.5],[2.7,17.6],[3.25,17.3],[4.2,17],[2.15,17],[3.6,16.5],[4.4,16.2],[1.5,16.6],[5.6,15.4],[5.1,15.3],[4.3,14.8],[4.75,14.6],[3.9,14.7],[5.4,13.8],[4.6,13.6],[5,12.6],[5.7,12.3],[4.25,12.2],[4,11.2],[4.9,11],[5.3,10.2],[5.8,9.9],[6.05,9],[5.05,8.8],[4.55,8.2],[5.45,7.5],[5.15,6.6],[5.95,6.4],[6.5,6.8],[5.7,5.1],[6.3,4.3],[6.2,3.2],[6.55,3],[5.9,3.3],[5.5,4],[5.8,2.4],[6.7,2.2],[7,8.7],
  [2.1,16],[2.4,15.2],[2.6,15.8],[2.85,14.4],[3,15.6],[3.2,14],[3.4,13.2],[3.6,14.8],[3.75,12.4],[3.9,13],[4.05,10],[4.2,9.6],[4.35,8.8],[4.5,7.6],[4.7,6.8],[4.9,5.6],[5.1,4.6],[5.3,3.8],[1.85,16.2],[2.3,17.5],[2.5,18.8],[2.9,17],[3.1,16.2],[3.3,15.4],[3.55,11.4],[3.8,10],[2.65,19.6],[2.25,19.6],[3,20.2],[3.6,19.6],[3.8,15.8],[4.1,13.8],[4.5,11],[4.8,8.8]];
const downColB = [[-11.18,1.5],[-11.18,2.5],[-11.18,3.5],[-11.18,4.5],[-11.18,5.5],[-11.18,6.5],[-11.18,7.5],[-11.18,8.5],[-11.18,9.5],[-11.18,10.5],[-11.18,11.5],[-11.18,12.5],[-11.18,13.5],[-11.18,14.5],[-11.18,15.5],[-11.18,16.5],[-11.18,17.5],[-11.18,18.5],[-11.18,19.5],[-11.18,20.5],[-11.18,21.5],[-11.18,22.5],[-11.18,23.5],[-11.18,27],[-11.18,28.5],[-11.18,31],[-11.18,33],[-11.18,35],[-11.18,36.5],[-11.18,38]];
const upColB = [[7.6,1.5],[7.6,2.5],[7.6,3.5],[7.6,4.5],[7.6,5.5],[7.6,6.5],[7.6,7.5],[7.6,8.5],[7.6,10],[7.6,11.5],[7.6,13],[7.6,15],[7.6,19.8],[7.6,24.6],[7.6,30.6]];
const normalColB = [[-11.18,0],[-11.18,1],[7.6,0],[7.6,1],[7.1,.8],[6.3,.9]];

const page = document.getElementById('page');

function text(str, left, top, css, cls) {
  const el = document.createElement('div');
  el.className = 'txt' + (cls ? ' ' + cls : '');
  el.innerHTML = str;
  el.style.left = left + 'px';
  el.style.top = top + 'px';
  if (css) el.style.cssText += css;
  page.appendChild(el);
  return el;
}
function rect(l, t, w, h, bg, extra) {
  const el = document.createElement('div');
  el.className = 'box';
  el.style.cssText = `left:${l}px;top:${t}px;width:${w}px;height:${h}px;background:${bg};${extra || ''}`;
  page.appendChild(el);
}
function canvas(l, t, w, h) {
  const c = document.createElement('canvas');
  c.width = w; c.height = h;
  c.style.cssText = `left:${l}px;top:${t}px;width:${w}px;height:${h}px`;
  page.appendChild(c);
  return c;
}
const pts = arr => arr.map(p => ({ x: p[0], y: p[1] }));

// blue - white - red ramp of the heatmaps, reds a little softer like the figure
function heatColor(v) {
  const t = Math.min(1, Math.abs(v) / 2);
  if (v < 0) {
    const c = Math.round(255 * (1 - t));
    return `rgb(${c},${c},255)`;
  }
  const g = Math.round(255 * (1 - Math.pow(t, 1.2)));
  return `rgb(${255 - Math.round(14 * t)},${g},${g})`;
}

function drawHeat(left, rows, labels) {
  const labelPlugin = {
    id: 'sampleLabels',
    afterDraw(chart) {
      const { ctx, scales: { x }, chartArea } = chart;
      ctx.save();
      ctx.font = '12px "Liberation Sans"';
      ctx.fillStyle = '#111';
      ctx.textAlign = 'left';
      ctx.textBaseline = 'middle';
      labels.forEach((lab, i) => {
        ctx.save();
        ctx.translate(x.getPixelForValue(i), chartArea.bottom + 5);
        ctx.rotate(Math.PI / 2);
        ctx.fillText(lab, 0, 0);
        ctx.restore();
      });
      ctx.restore();
    }
  };
  new Chart(canvas(left, 118, 351, 370 + 45), {
    type: 'bar',
    data: {
      labels: labels,
      datasets: rows.map(r => ({
        data: r.map(() => 1),
        backgroundColor: r.map(heatColor),
        borderWidth: 0,
        barPercentage: 1,
        categoryPercentage: 1
      }))
    },
    options: {
      responsive: false,
      animation: false,
      layout: { padding: { bottom: 45 } },
      plugins: { legend: { display: false }, tooltip: { enabled: false } },
      scales: {
        x: { display: false, stacked: true },
        y: { display: false, stacked: true, reverse: true, min: 0, max: rows.length }
      }
    },
    plugins: [labelPlugin]
  });
}

// dendrograms are drawn in a 3x panel unit grid
function drawTrees(left, colTree, rowTree, leaves, stripX) {
  const datasets = [];
  const line = (data, color, width) => datasets.push({ data, showLine: true, pointRadius: 0, borderColor: color, borderWidth: width, tension: 0 });
  colTree.forEach(t => line([{ x: t[1], y: t[3] }, { x: t[1], y: t[0] }, { x: t[2], y: t[0] }, { x: t[2], y: t[4] }], '#666', 0.9));
  rowTree.forEach(t => line([{ x: t[3], y: t[1] }, { x: t[0], y: t[1] }, { x: t[0], y: t[2] }, { x: t[4], y: t[2] }], '#777', 0.8));
  leaves.forEach(l => line([{ x: l[1], y: l[0] }, { x: stripX, y: l[0] }], '#222', 1.1));
  // vertical ties of the leaf combs
  leaves.forEach((l, i) => {
    if (i % 2 === 0 && leaves[i + 1]) line([{ x: l[1] + 6, y: l[0] }, { x: l[1] + 6, y: leaves[i + 1][0] }], '#444', 0.8);
  });
  new Chart(canvas(left, 0, 490, 530), {
    type: 'scatter',
    data: { datasets },
    options: {
      responsive: false, animation: false,
      plugins: { legend: { display: false }, tooltip: { enabled: false } },
      scales: { x: { display: false, min: 0, max: 1470 }, y: { display: false, reverse: true, min: 0, max: 1590 } }
    }
  });
}

function drawVolcano(cfg) {
  const edge = '#8d8d8d';
  const yLabels = {
    id: 'rotatedTicks',
    afterDraw(chart) {
      const { ctx, scales: { y }, chartArea: a } = chart;
      ctx.save();
      ctx.strokeStyle = edge;
      ctx.lineWidth = 1.2;
      ctx.strokeRect(a.left, a.top, a.right - a.left, a.bottom - a.top);
      ctx.font = '10px "Liberation Sans"';
      ctx.fillStyle = '#666';
      ctx.textAlign = 'center';
      ctx.textBaseline = 'middle';
      cfg.yTicks.forEach(v => {
        ctx.save();
        ctx.translate(a.left - 18, y.getPixelForValue(v));
        ctx.rotate(-Math.PI / 2);
        ctx.fillText(String(v), 0, 0);
        ctx.restore();
      });
      ctx.restore();
    }
  };
  const area = (data, color, base) => ({ data: pts(data), showLine: true, pointRadius: 0, borderWidth: 0, backgroundColor: color, fill: { value: base }, tension: 0 });
  const dots = (data, color, r) => ({ data: pts(data), showLine: false, pointRadius: r, pointBorderWidth: 0, backgroundColor: color, pointBackgroundColor: color });
  const guide = data => ({ data: pts(data), showLine: true, pointRadius: 0, borderColor: '#bdbdbd', borderWidth: 1.2, fill: false });
  const [xMin, xMax] = cfg.xRange, [yMin, yMax] = cfg.yRange;
  new Chart(canvas(cfg.left - 38, cfg.top - 13, cfg.width + 38 + 13, cfg.height + 13 + 33), {
    type: 'scatter',
    data: {
      datasets: [
        area(cfg.bandLeft, '#888', 1.3),
        area(cfg.bandRight, '#888', 1.3),
        area(cfg.vee, '#888', 0),
        area(cfg.downMass, '#52ff0a', 1.3),
        area(cfg.upMass, '#ff2a12', 1.3),
        dots(cfg.normalCol, '#888', 1.3),
        dots(cfg.downPts, '#52ff0a', 1.5),
        dots(cfg.upPts, '#f0261a', 1.5),
        dots(cfg.downCol, '#52ff0a', 1.35),
        dots(cfg.upCol, '#f0261a', 1.35),
        guide([[-1, yMin], [-1, yMax]]),
        guide([[0, yMin], [0, yMax]]),
        guide([[1, yMin], [1, yMax]]),
        guide([[xMin, 1.3], [xMax, 1.3]])
      ]
    },
    options: {
      responsive: false, animation: false,
      layout: { padding: { top: 13, right: 13 } },
      plugins: { legend: { display: false }, tooltip: { enabled: false } },
      scales: {
        x: {
          min: xMin, max: xMax,
          afterBuildTicks: s => { s.ticks = cfg.xTicks.map(v => ({ value: v })); },
          afterFit: s => { s.height = 33; },
          border: { color: edge },
          grid: { drawOnChartArea: false, color: edge, tickLength: 5 },
          ticks: { color: '#666', font: { size: 10, family: 'Liberation Sans' }, maxRotation: 0, padding: 8, autoSkip: false, callback: v => String(v) }
        },
        y: {
          min: yMin, max: yMax,
          afterBuildTicks: s => { s.ticks = cfg.yTicks.map(v => ({ value: v })); },
          afterFit: s => { s.width = 38; },
          border: { color: edge },
          grid: { drawOnChartArea: false, color: edge, tickLength: 5 },
          ticks: { display: false }
        }
      }
    },
    plugins: [yLabels]
  });
}

function volcanoLegend(l, t) {
  rect(l, t, 43, 37, '#fff', 'border:1px solid #777;box-sizing:border-box;');
  const rows = [['Normal', '#888'], ['Up', '#f0261a'], ['Down', '#52ff0a']];
  rows.forEach((r, i) => {
    rect(l + 6, t + 8 + i * 9.6, 4, 4, r[1], 'border-radius:50%;');
    text(r[0], l + 14, t + 6 + i * 9.6, 'font-size:7.5px;color:#555;');
  });
}

function heatLegend(barX, cond, keyX, names) {
  rect(barX, 118, 8, 115, 'linear-gradient(to bottom,#ff0000 0%,#ffffff 50%,#0000ff 100%)');
  ['2', '1', '0', '-1', '-2'].forEach((s, i) => text(s, barX + 11, 115.5 + i * 28.3, 'font-size:7px;color:#555;'));
  text('condition', cond, 108.5, 'font-size:7.3px;font-weight:bold;color:#222;');
  text('condition', keyX, 117.5, 'font-size:7.3px;font-weight:bold;color:#222;');
  rect(keyX, 127, 12, 11, '#6ffbe9');
  rect(keyX, 138, 12, 11, '#f08680');
  text(names[0], keyX + 14, 129, 'font-size:7px;color:#555;');
  text(names[1], keyX + 14, 140, 'font-size:7px;color:#555;');
}

// ---------- panel A ----------
text('A', 9, 6, '', 'panel');
text('TS-vs-DS:pvalue&lt;0.05&amp;&amp; |log2FC|&gt;1', 110, 50, '', 'title');
text('TR-vs-DR:pvalue&lt;0.05&amp;&amp; |log2FC|&gt;1', 595, 50, '', 'title');
rect(84, 108, 175.5, 7.5, '#f08680');
rect(259.5, 108, 175.5, 7.5, '#6ffbe9');
rect(555, 108, 175.5, 7.5, '#f08680');
rect(730.5, 108, 175.5, 7.5, '#6ffbe9');
drawTrees(0, colTreeA, rowTreeA, leavesA, 252);
drawTrees(490, colTreeB, rowTreeB, leavesB, 195);
rect(79, 118, 5, 370, '#000');
rect(550, 118, 5, 370, '#000');
drawHeat(84, heatA, samplesA);
drawHeat(555, heatB, samplesB);
heatLegend(439, 437, 461, ['DS', 'TS']);
heatLegend(910, 908, 932, ['DR', 'TR']);

// ---------- panel B ----------
text('B', 9, 555, '', 'panel');
const vennFill = [
  [petalRed, 'rgba(229,0,0,0.5)'],
  [petalGold, 'rgba(219,161,0,0.5)'],
  [petalGreen, 'rgba(51,255,0,0.5)'],
  [petalBlue, 'rgba(0,0,255,0.5)'],
  [petalMagenta, 'rgba(255,0,255,0.5)']
];
const vennPlugin = {
  id: 'venn',
  beforeDatasetsDraw(chart) {
    const { ctx, scales: { x, y } } = chart;
    vennFill.forEach(([outline, color]) => {
      const p = outline.map(q => [x.getPixelForValue(q[0]), y.getPixelForValue(q[1])]);
      const n = p.length;
      ctx.beginPath();
      ctx.moveTo(p[0][0], p[0][1]);
      for (let i = 0; i < n; i++) {
        const p0 = p[(i - 1 + n) % n], p1 = p[i], p2 = p[(i + 1) % n], p3 = p[(i + 2) % n];
        ctx.bezierCurveTo(p1[0] + (p2[0] - p0[0]) / 6, p1[1] + (p2[1] - p0[1]) / 6,
          p2[0] - (p3[0] - p1[0]) / 6, p2[1] - (p3[1] - p1[1]) / 6, p2[0], p2[1]);
      }
      ctx.closePath();
      ctx.fillStyle = color;
      ctx.fill();
    });
  },
  afterDatasetsDraw(chart) {
    const { ctx, scales: { x, y } } = chart;
    ctx.save();
    ctx.textAlign = 'center';
    ctx.textBaseline = 'middle';
    ctx.fillStyle = '#111';
    ctx.font = '11px "Liberation Serif"';
    vennCounts.forEach((c, i) => ctx.fillText(c, x.getPixelForValue(vennCountX[i]), y.getPixelForValue(vennCountY[i])));
    ctx.font = 'bold 13px "Liberation Serif"';
    vennNames.forEach((c, i) => ctx.fillText(c, x.getPixelForValue(vennNameX[i]), y.getPixelForValue(vennNameY[i])));
    ctx.restore();
  }
};
new Chart(canvas(200, 555, 575, 550), {
  type: 'scatter',
  data: { datasets: [{ data: [], pointRadius: 0 }] },
  options: {
    responsive: false, animation: false,
    plugins: { legend: { display: false }, tooltip: { enabled: false } },
    scales: { x: { display: false, min: 0, max: 1725 }, y: { display: false, reverse: true, min: -15, max: 1635 } }
  },
  plugins: [vennPlugin]
});

// ---------- panel C ----------
text('C', 9, 1101, '', 'panel');
text('a', 49, 1128, 'font-size:32px;font-weight:bold;');
text('b', 521, 1126, 'font-size:32px;font-weight:bold;');
text('TS-vs-DS:pvalue&lt;0.05&amp;&amp; |log2FC|&gt;1', 134, 1148, '', 'title');
text('TR-vs-DR:pvalue&lt;0.05&amp;&amp; |log2FC|&gt;1', 619, 1148, '', 'title');
drawVolcano({
  left: 98, top: 1173, width: 360, height: 384, xRange: [-9.54, 9.35], yRange: [-3.14, 80.95],
  xTicks: ticksAX, yTicks: ticksAY, bandLeft: bandLeftA, bandRight: bandRightA, vee: normalVA, downMass: downMassA, upMass: upMassA,
  downPts: downPtsA, upPts: upPtsA, downCol: downColA, upCol: upColA, normalCol: normalColA
});
drawVolcano({
  left: 576, top: 1173, width: 360, height: 383, xRange: [-11.92, 8.4], yRange: [-6.36, 172],
  xTicks: ticksBX, yTicks: ticksBY, bandLeft: bandLeftB, bandRight: bandRightB, vee: normalVB, downMass: downMassB, upMass: upMassB,
  downPts: downPtsB, upPts: upPtsB, downCol: downColB, upCol: upColB, normalCol: normalColB
});
volcanoLegend(106, 1183);
volcanoLegend(585, 1183);
const axisX = 'log<sub>2</sub> fold change';
const axisY = '-log<sub>10</sub>pvalue';
text(axisX, 269, 1599, 'transform:translate(-50%,-50%);', 'axt');
text(axisX, 753, 1599, 'transform:translate(-50%,-50%);', 'axt');
text(axisY, 53, 1368, 'transform:translate(-50%,-50%) rotate(-90deg);', 'axt');
text(axisY, 533, 1368, 'transform:translate(-50%,-50%) rotate(-90deg);', 'axt');
</script>
</body>
</html>
